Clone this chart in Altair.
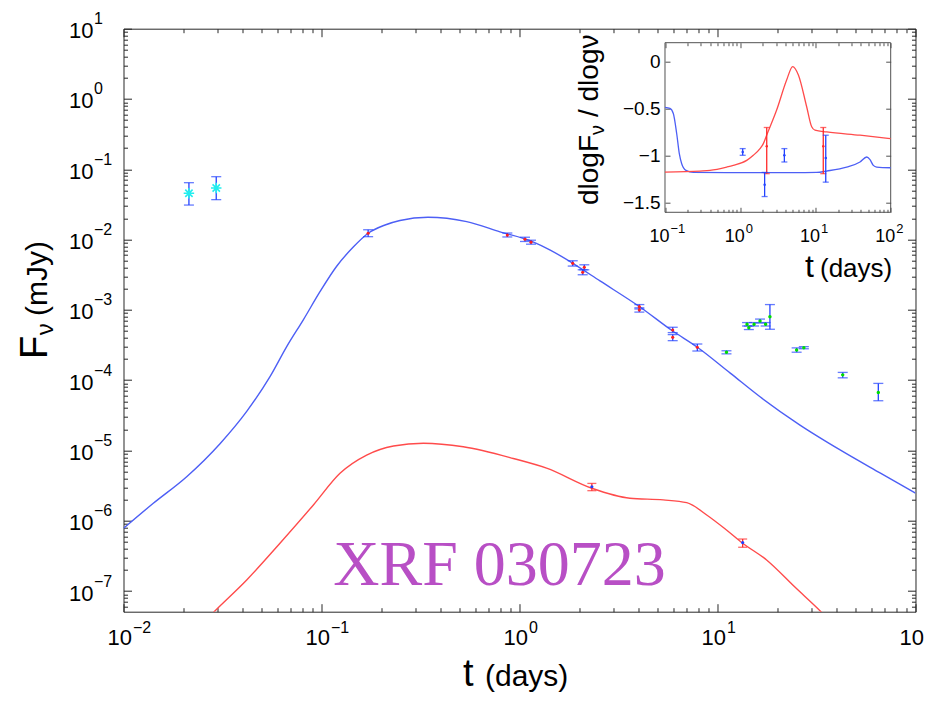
import altair as alt
import pandas as pd

# ---------------- data ----------------
# main model curves
blue_curve_t = [0.01, 0.01414, 0.02085, 0.03072, 0.04191, 0.05494, 0.06672, 0.08093, 0.09826, 0.1193, 0.1447,
                0.172, 0.2094, 0.249, 0.345, 0.541, 0.797, 1.17, 1.43, 1.86, 2.55, 4.06, 5.94, 7.88,
                11.6, 16.4, 26.1, 41.6, 66.2, 100]
blue_curve_F = [7.8e-7, 1.774e-6, 4.24e-6, 1.25e-5, 3.6e-5, 1.122e-4, 3.0e-4, 7.22e-4, 1.816e-3, 4.18e-3, 7.83e-3,
                0.0123, 0.01614, 0.0187, 0.0208, 0.018, 0.0129, 0.0093, 0.0071, 0.0046, 2.58e-3, 1.1e-3,
                5.0e-4, 2.97e-4, 1.26e-4, 5.8e-5, 2.3e-5, 1.02e-5, 4.8e-6, 2.48e-6]
red_curve_t = [0.0244, 0.0287, 0.0419, 0.0617, 0.091, 0.124, 0.169, 0.231, 0.327, 0.52, 0.93, 1.37,
               2.32, 3.61, 5.32, 6.99, 8.82, 11.1, 13.4, 17.7, 24.6, 33.3, 41.5]
red_curve_F = [3.2e-8, 5.1e-8, 1.44e-7, 4.8e-7, 1.68e-6, 4.74e-6, 8.6e-6, 1.16e-5, 1.27e-5, 1.13e-5,
               7.7e-6, 5.6e-6, 2.9e-6, 2.09e-6, 1.98e-6, 1.81e-6, 1.21e-6, 7.4e-7, 4.8e-7, 2.77e-7,
               1.14e-7, 5.1e-8, 2.7e-8]

# observations on the blue curve (red dots, blue bars)
blue_obs_t = [0.172, 0.868, 1.066, 1.143, 1.857, 2.125, 2.085, 4.03, 4.03, 5.94, 5.94, 7.91]
blue_obs_F = [0.0123, 0.0116, 0.0101, 0.0092, 0.0046, 0.00404, 0.00343, 0.00111, 0.00100, 5.18e-4, 4.07e-4, 2.94e-4]
blue_obs_lo = [0.0110, 0.0109, 0.0094, 0.0086, 0.0042, 0.00372, 0.00316, 0.00103, 0.00093, 4.75e-4, 3.65e-4, 2.60e-4]
blue_obs_hi = [0.0138, 0.0124, 0.0108, 0.0098, 0.0050, 0.00438, 0.00372, 0.00119, 0.00107, 5.66e-4, 4.45e-4, 3.27e-4]

# late observations (green dots, blue bars)
green_obs_t = [11.1, 14.1, 14.4, 15.3, 16.4, 17.5, 18.4, 25.1, 27.3, 42.9, 64.9]
green_obs_F = [2.49e-4, 6.24e-4, 5.58e-4, 6.24e-4, 6.95e-4, 6.24e-4, 8.0e-4, 2.69e-4, 2.9e-4, 1.19e-4, 6.7e-5]
green_obs_lo = [2.37e-4, 5.9e-4, 5.25e-4, 5.9e-4, 6.5e-4, 5.9e-4, 5.3e-4, 2.5e-4, 2.8e-4, 1.08e-4, 5.1e-5]
green_obs_hi = [2.62e-4, 6.6e-4, 5.9e-4, 6.6e-4, 7.4e-4, 6.6e-4, 1.19e-3, 2.88e-4, 3.0e-4, 1.29e-4, 9.0e-5]

# observations on the red curve (blue dots, red bars)
red_obs_t = [2.32, 13.4]
red_obs_F = [3.05e-6, 4.9e-7]
red_obs_lo = [2.68e-6, 4.2e-7]
red_obs_hi = [3.4e-6, 5.5e-7]

# early observations (cyan stars)
cyan_obs_t = [0.0214, 0.0294]
cyan_obs_F = [0.0456, 0.0542]
cyan_obs_lo = [0.031, 0.037]
cyan_obs_hi = [0.0645, 0.0785]

# inset: spectral slope
inset_blue_t = [0.1, 0.1164, 0.129, 0.143, 0.155, 0.1667, 0.19, 0.238, 0.661, 5.08, 10.4, 14.1, 26.0,
                39.1, 48.0, 53.1, 58.7, 65.2, 100]
inset_blue_s = [-0.487, -0.498, -0.551, -0.764, -0.978, -1.084, -1.155, -1.177, -1.18, -1.18, -1.177,
                -1.162, -1.12, -1.066, -1.013, -1.042, -1.102, -1.12, -1.127]
inset_red_t = [0.1, 0.292, 0.396, 0.661, 0.809, 1.219, 1.493, 1.832, 2.028, 2.244, 3.048, 4.14, 4.98,
               5.93, 7.64, 8.91, 9.86, 14.1, 39.1, 100]
inset_red_s = [-1.173, -1.162, -1.155, -1.12, -1.102, -1.049, -0.995, -0.924, -0.871, -0.782, -0.515,
               -0.196, -0.053, -0.142, -0.48, -0.693, -0.729, -0.747, -0.782, -0.818]
inset_bobs_t = [1.078, 2.11, 3.86, 13.7]
inset_bobs_s = [-0.96, -1.308, -0.995, -1.024]
inset_bobs_lo = [-0.995, -1.433, -1.066, -1.28]
inset_bobs_hi = [-0.924, -1.177, -0.924, -0.782]
inset_robs_t = [2.25, 12.7]
inset_robs_s = [-0.899, -0.899]
inset_robs_lo = [-1.19, -1.19]
inset_robs_hi = [-0.70, -0.70]

label_text = ["XRF 030723"]
label_t = [0.1147]
label_F = [1.22e-7]

main_decades = [0.01, 0.1, 1, 10, 100]
main_ydecades = [1e-7, 1e-6, 1e-5, 1e-4, 1e-3, 1e-2, 1e-1, 1, 10]
inset_decades = [0.1, 1, 10, 100]
inset_yticks = [-1.5, -1.0, -0.5, 0.0]

# ---------------- layout ----------------
W, H = 792, 583
IX0, IX1 = 541.5, 767.2      # inset x pixel range inside the plot area
IY0, IY1 = 183.6, 14.0       # inset y pixel range (bottom, top)
FONT = "Liberation Sans"
SERIF = "Liberation Serif"
BLUE_LINE = "#4d5ff5"
RED_LINE = "#ff4b4b"
BLUE_BAR = "#2343ff"
RED_BAR = "#ff2a2a"
FRAME = "#262626"
IFRAME = "#505050"

x_minor = [k * 10.0 ** d for d in (-2, -1, 0, 1) for k in range(2, 10)]
y_minor = [k * 10.0 ** d for d in range(-8, 1) for k in range(2, 10) if 5.09e-8 <= k * 10.0 ** d <= 10]
ix_minor = [k * 10.0 ** d for d in (-1, 0, 1) for k in range(2, 10)]


def xs_main():
    return alt.Scale(type="log", domain=[0.01, 100], range=[0, W], nice=False)


def ys_main():
    return alt.Scale(type="log", domain=[5.09e-8, 10], range=[H, 0], nice=False)


def xs_in():
    return alt.Scale(type="log", domain=[0.1, 100], range=[IX0, IX1], nice=False)


def ys_in():
    return alt.Scale(domain=[-1.6, 0.2], range=[IY0, IY1], nice=False, zero=False)


def df_of(**cols):
    return pd.DataFrame(cols)


def errbars(df, xs, ys, color, cap, width=1.3):
    base = alt.Chart(df)
    rule = base.mark_rule(color=color, strokeWidth=width).encode(
        x=alt.X("t:Q", scale=xs, axis=None),
        y=alt.Y("lo:Q", scale=ys, axis=None),
        y2="hi:Q")
    lo = base.mark_tick(color=color, orient="horizontal", size=cap, thickness=width).encode(
        x=alt.X("t:Q", scale=xs, axis=None), y=alt.Y("lo:Q", scale=ys, axis=None))
    hi = base.mark_tick(color=color, orient="horizontal", size=cap, thickness=width).encode(
        x=alt.X("t:Q", scale=xs, axis=None), y=alt.Y("hi:Q", scale=ys, axis=None))
    return [rule, lo, hi]


def dots(df, xs, ys, color, size=10, field="F"):
    return alt.Chart(df).mark_point(filled=True, color=color, size=size, opacity=1).encode(
        x=alt.X("t:Q", scale=xs, axis=None), y=alt.Y(f"{field}:Q", scale=ys, axis=None))


def curve(df, xs, ys, color, field="F", width=1.4):
    return alt.Chart(df).mark_line(color=color, strokeWidth=width, clip=True, interpolate="monotone").encode(
        x=alt.X("t:Q", scale=xs, axis=None), y=alt.Y(f"{field}:Q", scale=ys, axis=None), order="t:Q")


# ---------------- main panel ----------------
blue_c = df_of(t=blue_curve_t, F=blue_curve_F)
red_c = df_of(t=red_curve_t, F=red_curve_F)
bo = df_of(t=blue_obs_t, F=blue_obs_F, lo=blue_obs_lo, hi=blue_obs_hi)
go = df_of(t=green_obs_t, F=green_obs_F, lo=green_obs_lo, hi=green_obs_hi)
ro = df_of(t=red_obs_t, F=red_obs_F, lo=red_obs_lo, hi=red_obs_hi)
co = df_of(t=cyan_obs_t, F=cyan_obs_F, lo=cyan_obs_lo, hi=cyan_obs_hi)
lab = df_of(t=label_t, F=label_F, text=label_text)

STAR = "M-1,0L1,0M0,-1L0,1M-0.7,-0.7L0.7,0.7M-0.7,0.7L0.7,-0.7"

main_layers = [curve(blue_c, xs_main(), ys_main(), BLUE_LINE),
               curve(red_c, xs_main(), ys_main(), RED_LINE)]
main_layers += errbars(bo, xs_main(), ys_main(), BLUE_BAR, 10)
main_layers += errbars(go, xs_main(), ys_main(), BLUE_BAR, 10)
main_layers += errbars(ro, xs_main(), ys_main(), RED_BAR, 9)
main_layers += errbars(co, xs_main(), ys_main(), BLUE_BAR, 10)
main_layers += [dots(bo, xs_main(), ys_main(), "#ff1e1e", 10),
                dots(go, xs_main(), ys_main(), "#00dd00", 12),
                dots(ro, xs_main(), ys_main(), "#2040ff", 10),
                alt.Chart(co).mark_point(shape=STAR, filled=False, color="#22eeee", size=110,
                                         strokeWidth=1.6, opacity=1).encode(
                    x=alt.X("t:Q", scale=xs_main(), axis=None), y=alt.Y("F:Q", scale=ys_main(), axis=None)),
                alt.Chart(lab).mark_text(align="left", baseline="alphabetic", font=SERIF, fontSize=64,
                                         color="#b84fc5").encode(
                    x=alt.X("t:Q", scale=xs_main(), axis=None), y=alt.Y("F:Q", scale=ys_main(), axis=None),
                    text="text:N")]
main_panel = alt.layer(*main_layers)

# ---------------- inset panel ----------------
ib = df_of(t=inset_blue_t, s=inset_blue_s)
ir = df_of(t=inset_red_t, s=inset_red_s)
ibo = df_of(t=inset_bobs_t, s=inset_bobs_s, lo=inset_bobs_lo, hi=inset_bobs_hi)
iro = df_of(t=inset_robs_t, s=inset_robs_s, lo=inset_robs_lo, hi=inset_robs_hi)
frame_df = df_of(t=[0.1], t2=[100.0], s=[-1.6], s2=[0.2])

inset_layers = [alt.Chart(frame_df).mark_rect(filled=False, stroke=IFRAME, strokeWidth=1).encode(
    x=alt.X("t:Q", scale=xs_in(), axis=None), x2="t2:Q",
    y=alt.Y("s:Q", scale=ys_in(), axis=None), y2="s2:Q"),
    curve(ib, xs_in(), ys_in(), BLUE_LINE, field="s", width=1.3),
    curve(ir, xs_in(), ys_in(), RED_LINE, field="s", width=1.3)]
inset_layers += errbars(iro, xs_in(), ys_in(), RED_BAR, 6, 1.3)
inset_layers += errbars(ibo, xs_in(), ys_in(), BLUE_BAR, 6, 1.3)
inset_layers += [dots(iro, xs_in(), ys_in(), RED_BAR, 6, field="s"),
                 dots(ibo, xs_in(), ys_in(), BLUE_BAR, 6, field="s")]
inset_panel = alt.layer(*inset_layers)

# ---------------- axes (each layer carries its own scale copy) ----------------
dummy_main = df_of(t=[1.0], v=[1e-3])
dummy_in = df_of(t=[1.0], v=[-1.0])
EXP = "replace(toString(round(log(datum.value)/LN10)), '-', '\u2212')"


def axis_layer(df, xs, ys, xaxis, yaxis):
    return alt.Chart(df).mark_point(opacity=0).encode(
        x=alt.X("t:Q", scale=xs, axis=xaxis), y=alt.Y("v:Q", scale=ys, axis=yaxis))


def tick_axis(orient, values, size, offset, color):
    return alt.Axis(orient=orient, values=values, ticks=True, tickSize=size, tickColor=color, tickWidth=1,
                    labels=False, domain=False, grid=False, title=None, offset=offset)


def label_axis(orient, values, expr, size, align, along, padding, baseline, offset=0):
    return alt.Axis(orient=orient, values=values, labelExpr=expr, labelFontSize=size, labelFont=FONT,
                    labelColor="black", labelAlign=align, labelOffset=along, labelPadding=padding,
                    labelBaseline=baseline, labelFlush=False, labelOverlap=False, ticks=False, tickSize=0,
                    domain=False, grid=False, title=None, offset=offset)


axes = [
    axis_layer(dummy_main, xs_main(), ys_main(),
               label_axis("bottom", main_decades, "'10'", 22, "right", 8, 33, "alphabetic"),
               label_axis("left", main_ydecades, "'10'", 22, "left", 2, 55, "middle")),
    axis_layer(dummy_main, xs_main(), ys_main(),
               label_axis("bottom", main_decades, EXP, 16, "left", 9, 21, "alphabetic"),
               label_axis("left", main_ydecades, EXP, 16, "left", -10, 30, "middle")),
    axis_layer(dummy_main, xs_main(), ys_main(),
               tick_axis("top", main_decades, 8, -H, FRAME), tick_axis("right", main_ydecades, 8, -W, FRAME)),
    axis_layer(dummy_main, xs_main(), ys_main(),
               tick_axis("top", x_minor, 4, -H, FRAME), tick_axis("right", y_minor, 4, -W, FRAME)),
    axis_layer(dummy_main, xs_main(), ys_main(),
               tick_axis("bottom", main_decades, 8, -H, FRAME), tick_axis("left", main_ydecades, 8, -W, FRAME)),
    axis_layer(dummy_main, xs_main(), ys_main(),
               tick_axis("bottom", x_minor, 4, -H, FRAME), tick_axis("left", y_minor, 4, -W, FRAME)),
    # inset axes
    axis_layer(dummy_in, xs_in(), ys_in(),
               label_axis("bottom", inset_decades, "'10'", 18, "right", 4, 29.5, "alphabetic", -(H - IY0)),
               label_axis("left", inset_yticks,
                          "datum.value == 0 ? '0' : '\u2212' + toString(abs(datum.value))",
                          19, "right", 0, 5, "middle", -IX0)),
    axis_layer(dummy_in, xs_in(), ys_in(),
               label_axis("bottom", inset_decades, EXP, 13, "left", 5, 20.5, "alphabetic", -(H - IY0)),
               tick_axis("right", inset_yticks, 5, -(W - IX0), IFRAME)),
    axis_layer(dummy_in, xs_in(), ys_in(),
               tick_axis("top", inset_decades, 5, -IY0, IFRAME),
               tick_axis("left", inset_yticks, 5, -IX1, IFRAME)),
    axis_layer(dummy_in, xs_in(), ys_in(),
               tick_axis("top", ix_minor, 3, -IY0, IFRAME), None),
    axis_layer(dummy_in, xs_in(), ys_in(),
               tick_axis("bottom", inset_decades, 5, -(H - IY1), IFRAME), None),
    axis_layer(dummy_in, xs_in(), ys_in(),
               tick_axis("bottom", ix_minor, 3, -(H - IY1), IFRAME), None),
]

# ---------------- titles (pixel anchored text) ----------------
one = df_of(a=[0])


def txt(s, x, y, size, angle=0):
    return alt.Chart(one).mark_text(text=s, fontSize=size, font=FONT, color="black", align="left",
                                    baseline="alphabetic", angle=angle).encode(
        x=alt.value(x), y=alt.value(y))


titles = [
    txt("t", 339.5, 657.0, 38), txt("(days)", 361.5, 657.0, 30),
    txt("F", -76.5, 330.3, 38, 270), txt("\u03bd", -71, 306.5, 24, 270), txt("(mJy)", -76.5, 287.3, 30, 270),
    txt("t", 681.5, 248.3, 32), txt("(days)", 696.5, 248.3, 26),
    txt("dlogF", 474.5, 176.3, 28, 270), txt("\u03bd", 480.5, 106.3, 20, 270),
    txt("/ dlog\u03bd", 474.5, 88.3, 28, 270),
]

chart = alt.layer(main_panel, inset_panel, *axes, *titles).resolve_scale(
    x="independent", y="independent"
).properties(
    width=W, height=H,
    autosize=alt.AutoSizeParams(type="none"),
    padding={"left": 115.5, "top": 20.7, "right": 8, "bottom": 82},
).configure_view(stroke=FRAME, strokeWidth=1)

chart.save("out.html", embed_options={"renderer": "svg", "actions": False})
